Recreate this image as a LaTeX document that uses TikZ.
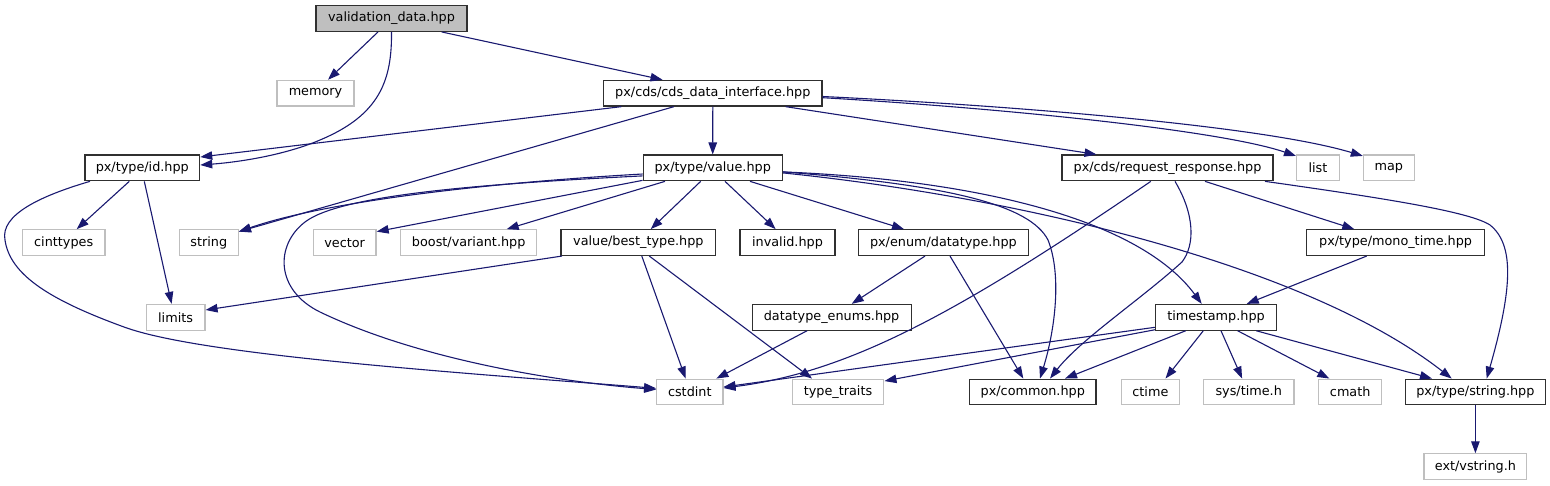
\documentclass[tikz,border=0pt]{standalone}
\usepackage{fontspec}
\setmainfont{DejaVu Sans}
\usetikzlibrary{arrows.meta}
\definecolor{edgeblue}{HTML}{191970}
\definecolor{extgray}{HTML}{BFBFBF}
\definecolor{rootgray}{HTML}{BFBFBF}
\definecolor{bord}{HTML}{303030}
\tikzset{
  base/.style={draw, rectangle, minimum height=25.7pt, inner sep=0pt,
    font=\fontsize{12.8}{15}\selectfont, text=black},
  intn/.style={base, draw=bord, line width=1.2pt, fill=white},
  extn/.style={base, draw=extgray, line width=1.2pt, fill=white},
  rootn/.style={base, draw=bord, fill=rootgray, line width=1.2pt},
  dep/.style={draw=edgeblue, line width=1.1pt, -{Triangle[length=12pt,width=8.5pt]}},
}
\begin{document}
\begin{tikzpicture}[x=1pt,y=-1pt]
\useasboundingbox (0,0) rectangle (1550,485);
% row 1
\node[rootn, minimum width=151pt] (val) at (391.5,18.5) {validation\_data.hpp};
% row 2
\node[extn, minimum width=77pt] (memory) at (315.5,93.2) {memory};
\node[intn, minimum width=218.4pt] (cds) at (712.8,93.2) {px/cds/cds\_data\_interface.hpp};
% row 3
\node[intn, minimum width=114.7pt] (id) at (142.3,167.9) {px/type/id.hpp};
\node[intn, minimum width=139pt] (value) at (712.7,167.9) {px/type/value.hpp};
\node[intn, minimum width=211pt] (rr) at (1167.5,167.9) {px/cds/request\_response.hpp};
\node[extn, minimum width=42.8pt] (list) at (1318,167.9) {list};
\node[extn, minimum width=50.8pt] (map) at (1388.8,167.9) {map};
% row 4
\node[extn, minimum width=82.7pt] (cinttypes) at (63.7,242.6) {cinttypes};
\node[extn, minimum width=59pt] (string) at (208.8,242.6) {string};
\node[extn, minimum width=62.7pt] (vector) at (344.7,242.6) {vector};
\node[extn, minimum width=136pt] (boost) at (468.7,242.6) {boost/variant.hpp};
\node[intn, minimum width=154.7pt] (best) at (638.4,242.6) {value/best\_type.hpp};
\node[intn, minimum width=95pt] (invalid) at (787.5,242.6) {invalid.hpp};
\node[intn, minimum width=169.6pt] (datatype) at (943.4,242.6) {px/enum/datatype.hpp};
\node[intn, minimum width=177.5pt] (mono) at (1395.6,242.6) {px/type/mono\_time.hpp};
% row 5
\node[extn, minimum width=58.7pt] (limits) at (175.6,317.3) {limits};
\node[intn, minimum width=159pt] (enums) at (831.6,317.3) {datatype\_enums.hpp};
\node[intn, minimum width=121pt] (timestamp) at (1216,317.3) {timestamp.hpp};
% row 6
\node[extn, minimum width=66.2pt] (cstdint) at (689.8,392) {cstdint};
\node[extn, minimum width=91.7pt] (traits) at (838,392) {type\_traits};
\node[intn, minimum width=126.4pt] (common) at (1032.8,392) {px/common.hpp};
\node[extn, minimum width=58.4pt] (ctime) at (1150.4,392) {ctime};
\node[extn, minimum width=90.7pt] (systime) at (1248.7,392) {sys/time.h};
\node[extn, minimum width=63pt] (cmath) at (1350.2,392) {cmath};
\node[intn, minimum width=140pt] (strhpp) at (1475.4,392) {px/type/string.hpp};
% row 7
\node[extn, minimum width=102.8pt] (vstring) at (1475.4,466.7) {ext/vstring.h};

% edges from validation_data.hpp
\draw[dep] ([xshift=-13.5pt]val.south) -- ([xshift=12.5pt]memory.north);
\draw[dep] (val.south) .. controls (392,80) and (380,115) .. (320,140)
  .. controls (285,155) and (240,162) .. ([yshift=2.9pt]id.east);
\draw[dep] ([xshift=50.2pt]val.south) -- ([xshift=-50.3pt]cds.north);
% edges from cds_data_interface
\draw[dep] ([xshift=-91.4pt]cds.south) -- ([yshift=10.9pt]id.east);
\draw[dep] ([xshift=-38.8pt]cds.south) -- ([yshift=11pt]string.east);
\draw[dep] (cds.south) -- (value.north);
\draw[dep] ([xshift=72.9pt]cds.south) -- ([xshift=-71pt]rr.north);
\draw[dep] ([yshift=-4.5pt]cds.east) .. controls (1000,108) and (1220,130) .. ([yshift=-1.5pt]list.north west);
\draw[dep] ([yshift=-3.3pt]cds.east) .. controls (1000,105) and (1260,125) .. ([yshift=-1.5pt]map.north west);
% edges from id.hpp
\draw[dep] ([xshift=-13pt]id.south) -- ([xshift=13pt]cinttypes.north);
\draw[dep] ([xshift=2pt]id.south) -- ([xshift=-4pt]limits.north);
\draw[dep] ([xshift=-52.3pt]id.south) .. controls (40,196) and (0,215) .. (5,240)
  .. controls (10,275) and (50,300) .. (124,327)
  .. controls (200,355) and (450,372) .. ([yshift=3.7pt]cstdint.west);
% edges from value.hpp
\draw[dep] ([yshift=-6.1pt]value.west) .. controls (500,182) and (330,200) .. ([yshift=11pt]string.east);
\draw[dep] ([yshift=-8pt]value.west) .. controls (480,184) and (340,195) .. (305,222)
  .. controls (275,245) and (275,290) .. (320,312)
  .. controls (420,360) and (560,382) .. ([yshift=2.5pt]cstdint.west);
\draw[dep] ([yshift=1pt]value.south west) -- ([yshift=11pt]vector.east);
\draw[dep] ([xshift=-47.7pt]value.south) -- ([xshift=38pt]boost.north);
\draw[dep] ([xshift=-12pt]value.south) -- ([xshift=12.3pt]best.north);
\draw[dep] ([xshift=12.3pt]value.south) -- ([xshift=-11.8pt]invalid.north);
\draw[dep] ([xshift=37.3pt]value.south) -- ([xshift=-39.4pt]datatype.north);
\draw[dep] ([yshift=-4pt]value.east) .. controls (950,185) and (1030,205) .. (1048,240)
  .. controls (1062,275) and (1055,330) .. ([xshift=7.2pt]common.north);
\draw[dep] ([yshift=-4pt]value.east) .. controls (980,180) and (1140,220) .. ([xshift=-14.3pt]timestamp.north);
\draw[dep] ([yshift=-5pt]value.east) .. controls (1000,195) and (1300,260) .. ([xshift=-23.7pt]strhpp.north);
% edges from request_response.hpp
\draw[dep] ([xshift=-16.7pt]rr.south) .. controls (960,312) and (850,372) .. ([yshift=4pt]cstdint.east);
\draw[dep] ([xshift=7.5pt]rr.south) .. controls (1195,215) and (1195,245) .. (1182,262)
  .. controls (1140,300) and (1080,340) .. ([xshift=17.2pt]common.north);
\draw[dep] ([xshift=37.5pt]rr.south) -- ([xshift=-41.3pt]mono.north);
\draw[dep] ([xshift=97.5pt]rr.south) .. controls (1390,199) and (1470,212) .. (1490,225)
  .. controls (1515,245) and (1512,290) .. ([xshift=11.3pt]strhpp.north);
% edges from best_type.hpp
\draw[dep] ([xshift=1.5pt]best.south west) -- ([yshift=7.3pt]limits.east);
\draw[dep] ([xshift=3.4pt]best.south) -- ([xshift=-4.2pt]cstdint.north);
\draw[dep] ([xshift=10.9pt]best.south) -- ([xshift=-26pt]traits.north);
% edges from datatype.hpp
\draw[dep] ([xshift=-18.4pt]datatype.south) -- ([xshift=20.1pt]enums.north);
\draw[dep] ([xshift=6.6pt]datatype.south) -- ([xshift=-9.5pt]common.north);
% datatype_enums
\draw[dep] ([xshift=-24.6pt]enums.south) -- ([xshift=26.6pt]cstdint.north);
% mono_time
\draw[dep] ([xshift=-28.9pt]mono.south) -- ([xshift=30.7pt]timestamp.north);
% timestamp
\draw[dep] ([yshift=-10pt]timestamp.west) -- ([yshift=5pt]cstdint.east);
\draw[dep] ([yshift=1pt]timestamp.south west) -- ([yshift=-2.5pt]traits.north east);
\draw[dep] ([xshift=-30.3pt]timestamp.south) -- ([xshift=32.2pt]common.north);
\draw[dep] ([xshift=-12.7pt]timestamp.south) -- ([xshift=15.1pt]ctime.north);
\draw[dep] ([xshift=5pt]timestamp.south) -- ([xshift=-6.6pt]systime.north);
\draw[dep] ([xshift=21.6pt]timestamp.south) -- ([xshift=-20.9pt]cmath.north);
\draw[dep] ([xshift=40.2pt]timestamp.south) -- ([xshift=-43.4pt]strhpp.north);
% string.hpp
\draw[dep] (strhpp.south) -- (vstring.north);
\end{tikzpicture}
\end{document}
